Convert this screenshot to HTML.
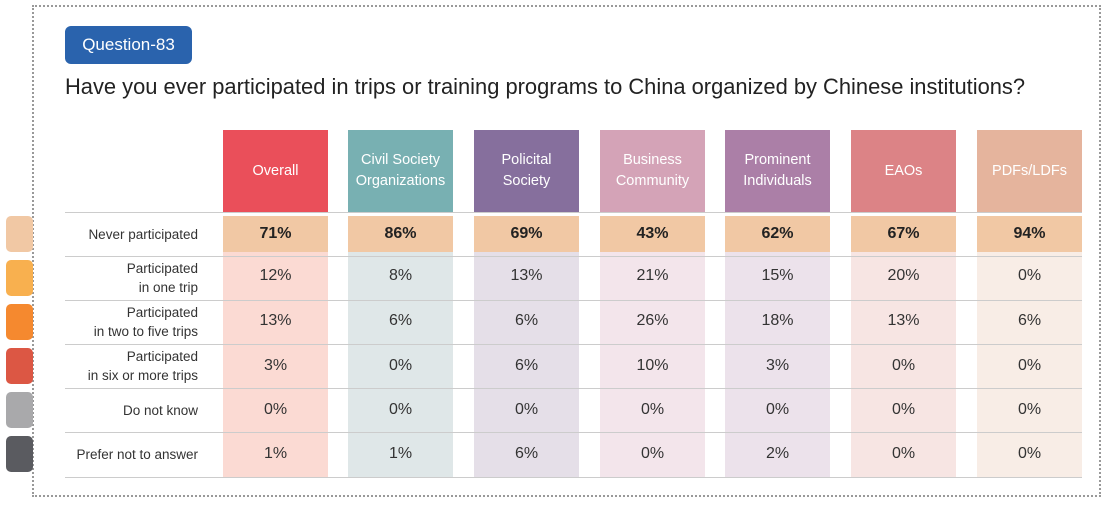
<!DOCTYPE html>
<html><head><meta charset="utf-8"><style>
*{margin:0;padding:0;box-sizing:border-box}
body{width:1110px;height:505px;background:#fff;position:relative;overflow:hidden;font-family:"Liberation Sans",sans-serif}
.a{position:absolute}
.box{left:32px;top:5px;width:1069px;height:492px;border:2px dotted #999}
.tab{left:6px;width:27px;height:36px;border-radius:5px}
.q{left:65px;top:26px;width:127px;height:38px;background:#2a63ad;border-radius:6px;color:#fff;font-size:17px;line-height:38px;text-align:center}
.title{left:65px;top:74px;font-size:21.9px;color:#222;white-space:nowrap}
.hd{top:130px;height:82px;width:105px;color:#fff;font-size:14.5px;display:flex;align-items:center;justify-content:center;text-align:center;line-height:21px}
.col{top:216px;height:261px;width:105px}
.nv{top:216px;height:36px;width:105px;background:#f1c8a4;font-weight:bold;font-size:16px;color:#222;text-align:center;line-height:36px}
.hl{left:65px;width:1017px;height:1px;background:#ccc}
.lab{left:40px;width:158px;text-align:right;font-size:13.5px;color:#333;line-height:19px}
.v{width:105px;text-align:center;font-size:16px;color:#333}
</style></head><body>
<div class="a box"></div>
<div class="a tab" style="top:216px;background:#f1c8a4"></div>
<div class="a tab" style="top:260px;background:#f8b04f"></div>
<div class="a tab" style="top:304px;background:#f5892f"></div>
<div class="a tab" style="top:348px;background:#dc5744"></div>
<div class="a tab" style="top:392px;background:#a9a9ab"></div>
<div class="a tab" style="top:436px;background:#5a5b60"></div>
<div class="a q">Question-83</div>
<div class="a title">Have you ever participated in trips or training programs to China organized by Chinese institutions?</div>

<div class="a col" style="left:223px;background:#fbdad3"></div>
<div class="a col" style="left:348px;background:#dfe7e8"></div>
<div class="a col" style="left:474px;background:#e5dfe8"></div>
<div class="a col" style="left:600px;background:#f3e5eb"></div>
<div class="a col" style="left:725px;background:#ece2eb"></div>
<div class="a col" style="left:851px;background:#f7e5e3"></div>
<div class="a col" style="left:977px;background:#f8ede6"></div>

<div class="a hd" style="left:223px;background:#ea4f5a">Overall</div>
<div class="a hd" style="left:348px;background:#78b0b2">Civil Society<br>Organizations</div>
<div class="a hd" style="left:474px;background:#866f9d">Policital<br>Society</div>
<div class="a hd" style="left:600px;background:#d4a3b7">Business<br>Community</div>
<div class="a hd" style="left:725px;background:#ab7fa7">Prominent<br>Individuals</div>
<div class="a hd" style="left:851px;background:#dc8386">EAOs</div>
<div class="a hd" style="left:977px;background:#e5b49d">PDFs/LDFs</div>

<div class="a hl" style="top:212px"></div>
<div class="a hl" style="top:256px"></div>
<div class="a hl" style="top:300px"></div>
<div class="a hl" style="top:344px"></div>
<div class="a hl" style="top:388px"></div>
<div class="a hl" style="top:432px"></div>
<div class="a hl" style="top:477px"></div>

<div class="a nv" style="left:223px">71%</div>
<div class="a nv" style="left:348px">86%</div>
<div class="a nv" style="left:474px">69%</div>
<div class="a nv" style="left:600px">43%</div>
<div class="a nv" style="left:725px">62%</div>
<div class="a nv" style="left:851px">67%</div>
<div class="a nv" style="left:977px">94%</div>

<div class="a lab" style="top:225px">Never participated</div>
<div class="a lab" style="top:259px">Participated<br>in one trip</div>
<div class="a lab" style="top:303px">Participated<br>in two to five trips</div>
<div class="a lab" style="top:347px">Participated<br>in six or more trips</div>
<div class="a lab" style="top:401px">Do not know</div>
<div class="a lab" style="top:445px">Prefer not to answer</div>

<div id="vals"></div>
<script>
var rows=[[12,8,13,21,15,20,0],[13,6,6,26,18,13,6],[3,0,6,10,3,0,0],[0,0,0,0,0,0,0],[1,1,6,0,2,0,0]];
var lefts=[223,348,474,600,725,851,977];var tops=[267,312,357,401,445];var h='';
rows.forEach(function(r,i){r.forEach(function(v,j){h+='<div class="a v" style="left:'+lefts[j]+'px;top:'+tops[i]+'px">'+v+'%</div>';});});
document.getElementById('vals').innerHTML=h;
</script>
</body></html>
